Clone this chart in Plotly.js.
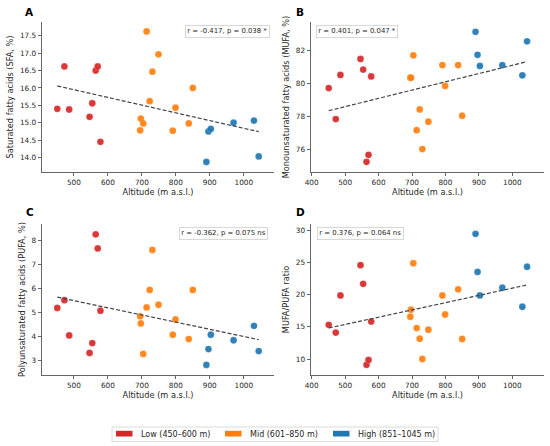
<!DOCTYPE html>
<html>
<head>
<meta charset="utf-8">
<script src="https://cdn.plot.ly/plotly-3.0.1.min.js"></script>
<style>html,body{margin:0;padding:0;background:#fff;}#chart{width:550px;height:446px;}</style>
</head>
<body>
<div id="chart"></div>
<script>
// ---- data ----
const altitude = [451, 472, 486, 546, 554, 564, 570, 578,
                  695, 697, 704, 714, 723, 731, 749, 791, 799, 838, 850,
                  890, 896, 903, 970, 1030, 1044];
const group = ['Low','Low','Low','Low','Low','Low','Low','Low',
               'Mid','Mid','Mid','Mid','Mid','Mid','Mid','Mid','Mid','Mid','Mid',
               'High','High','High','High','High','High'];
const sfa  = [15.40, 16.62, 15.38, 15.17, 15.56, 16.50, 16.62, 14.45,
              14.78, 15.12, 14.98, 17.63, 15.62, 16.47, 16.97, 14.77, 15.43, 14.98, 16.00,
              13.87, 14.75, 14.82, 15.00, 15.06, 14.03];
const mufa = [79.72, 77.83, 80.52, 81.50, 80.85, 75.22, 75.65, 80.43,
              80.35, 80.35, 81.72, 77.15, 78.42, 76.00, 77.67, 81.12, 79.85, 81.12, 78.03,
              83.15, 81.75, 81.07, 81.12, 80.50, 82.57];
const pufa = [5.20, 5.52, 4.05, 3.32, 3.73, 8.27, 7.68, 5.08,
              4.85, 4.55, 3.28, 5.22, 5.95, 7.62, 5.33, 4.08, 4.72, 3.90, 5.95,
              2.82, 3.48, 4.08, 3.85, 4.45, 3.40];
const ratio = [15.3, 14.1, 19.85, 24.55, 21.65, 9.1, 9.85, 15.8,
               16.55, 17.65, 24.85, 14.8, 13.15, 10.0, 14.55, 19.85, 16.9, 20.8, 13.1,
               29.4, 23.5, 19.85, 21.05, 18.1, 24.3];
const groupNames = ['Low', 'Mid', 'High'];
const legendLabels = ['Low (450\u2013600 m)', 'Mid (601\u2013850 m)', 'High (851\u20131045 m)'];
const groupColors = ['#d62728', '#ff7f0e', '#1f77b4'];
const statLabels = ['r = -0.417, p = 0.038 *', 'r = 0.401, p = 0.047 *',
                    'r = -0.362, p = 0.075 ns', 'r = 0.376, p = 0.064 ns'];
const yTitles = ['Saturated fatty acids (SFA, %)', 'Monounsaturated fatty acids (MUFA, %)',
                 'Polyunsaturated fatty acids (PUFA, %)', 'MUFA/PUFA ratio'];
const panelLetters = ['A', 'B', 'C', 'D'];
const xTitle = 'Altitude (m a.s.l.)';

// ---- build ----
const series = [sfa, mufa, pufa, ratio];
const W = 550, H = 446;
const px = v => v / W, py = v => 1 - v / H;
const panels = [
  {xd: [42, 274],  yd: [172, 22],  yr: [13.58, 17.9], dt: 0.5, tf: '.1f'},
  {xd: [311, 544], yd: [172, 22],  yr: [74.6, 83.75], dt: 2,   tf: 'd'},
  {xd: [42, 274],  yd: [375, 224], yr: [2.4, 8.7],    dt: 1,   tf: 'd'},
  {xd: [311, 544], yd: [375, 224], yr: [7.52, 30.93], dt: 5,   tf: 'd'}
];
const xRanges = [[406, 1089], [398, 1094.7], [406, 1089], [398, 1094.7]];

const font = 'DejaVu Sans, sans-serif';
const txt = '#262626';
const traces = [];
const layout = {
  width: W, height: H, margin: {l: 0, r: 0, t: 0, b: 0},
  paper_bgcolor: '#fff', plot_bgcolor: '#fff', showlegend: false,
  font: {family: font, color: txt, size: 7.3},
  annotations: [], shapes: []
};

function fit(x, y) {
  const n = x.length;
  const mx = x.reduce((a, b) => a + b, 0) / n, my = y.reduce((a, b) => a + b, 0) / n;
  let sxy = 0, sxx = 0;
  for (let i = 0; i < n; i++) { sxy += (x[i] - mx) * (y[i] - my); sxx += (x[i] - mx) ** 2; }
  const b = sxy / sxx; return {b: b, a: my - b * mx};
}

panels.forEach((p, k) => {
  const xa = k === 0 ? 'x' : 'x' + (k + 1), ya = k === 0 ? 'y' : 'y' + (k + 1);
  const vals = series[k];
  groupNames.forEach((g, gi) => {
    const xs = [], ys = [];
    altitude.forEach((a, i) => { if (group[i] === g) { xs.push(a); ys.push(vals[i]); } });
    traces.push({type: 'scatter', mode: 'markers', x: xs, y: ys, xaxis: xa, yaxis: ya,
      marker: {color: groupColors[gi], size: 6.8, opacity: 0.92, line: {color: '#fff', width: 0.2}},
      hoverinfo: 'skip'});
  });
  const f = fit(altitude, vals);
  const xmin = Math.min(...altitude), xmax = Math.max(...altitude);
  traces.push({type: 'scatter', mode: 'lines', x: [xmin, xmax], y: [f.a + f.b * xmin, f.a + f.b * xmax],
    xaxis: xa, yaxis: ya, line: {color: '#444', width: 1.2, dash: '4px,2px'}, hoverinfo: 'skip'});

  const axBase = {showline: true, linecolor: '#555', linewidth: 0.9, ticks: 'outside', ticklen: 3.5,
    tickwidth: 0.9, tickcolor: '#555', showgrid: false, zeroline: false,
    tickfont: {family: font, size: 7.3, color: txt}};
  layout['xaxis' + (k === 0 ? '' : k + 1)] = Object.assign({}, axBase, {
    domain: [px(p.xd[0]), px(p.xd[1])], anchor: ya, range: xRanges[k],
    tickmode: 'linear', tick0: 500, dtick: 100,
    title: {text: xTitle, font: {family: font, size: 8.2, color: txt}, standoff: 3}
  });
  layout['yaxis' + (k === 0 ? '' : k + 1)] = Object.assign({}, axBase, {
    domain: [py(p.yd[0]), py(p.yd[1])], anchor: xa, range: p.yr,
    tickmode: 'linear', tick0: 0, dtick: p.dt, tickformat: p.tf,
    title: {text: yTitles[k], font: {family: font, size: 8.2, color: txt}, standoff: 4}
  });

  // panel letters
  const lx = k % 2 === 0 ? 29.5 : 300, ly = k < 2 ? 11.5 : 212;
  layout.annotations.push({xref: 'paper', yref: 'paper', x: px(lx), y: py(ly), xanchor: 'center', yanchor: 'middle',
    text: '<b>' + panelLetters[k] + '</b>', showarrow: false, font: {family: font, size: 10.5, color: '#000'}});
  // stat boxes
  const right = k % 2 === 0;
  const bx = right ? (k === 0 ? 270 : 268) : (k === 1 ? 316 : 317);
  const by = k < 2 ? 24.5 : 227;
  layout.annotations.push({xref: 'paper', yref: 'paper', x: px(bx), y: py(by),
    xanchor: right ? 'right' : 'left', yanchor: 'top', text: statLabels[k], showarrow: false,
    font: {family: font, size: 6.9, color: txt}, bgcolor: '#fff', bordercolor: '#cfcfcf',
    borderwidth: 0.8, borderpad: 1.5});
});

// legend (patch + label), drawn in paper space
layout.shapes.push({type: 'rect', xref: 'paper', yref: 'paper', x0: px(112), x1: px(438), y0: py(441.5), y1: py(427),
  line: {color: '#d0d0d0', width: 0.8}, fillcolor: '#fff'});
const patchX = [116, 225, 333], textX = [139, 248, 356];
groupNames.forEach((g, gi) => {
  layout.shapes.push({type: 'rect', xref: 'paper', yref: 'paper', x0: px(patchX[gi]), x1: px(patchX[gi] + 16.5),
    y0: py(436.5), y1: py(430.8), line: {width: 0}, fillcolor: groupColors[gi]});
  layout.annotations.push({xref: 'paper', yref: 'paper', x: px(textX[gi]), y: py(434), xanchor: 'left', yanchor: 'middle',
    text: legendLabels[gi], showarrow: false, font: {family: font, size: 8, color: txt}});
});

Plotly.newPlot('chart', traces, layout, {staticPlot: true, displayModeBar: false});
</script>
</body>
</html>
